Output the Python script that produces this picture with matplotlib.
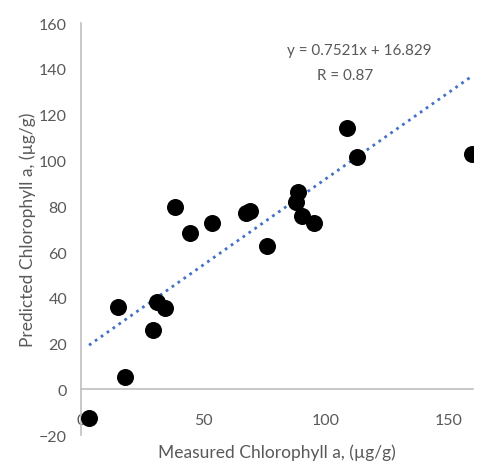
import matplotlib.pyplot as plt
import numpy as np

# measured vs predicted chlorophyll a (ug/g)
measured = [3.3, 15.2, 18.0, 29.5, 30.9, 34.3, 38.4, 44.5, 53.6, 67.2,
            69.0, 75.8, 87.8, 88.7, 90.1, 95.2, 108.4, 112.8, 159.5]
predicted = [-12.3, 36.2, 5.4, 26.0, 38.2, 35.4, 79.5, 68.1, 72.5, 76.9,
             78.0, 62.7, 82.0, 86.1, 75.8, 72.5, 114.1, 101.4, 102.8]

slope = 0.7521
intercept = 16.829
r_value = 0.87

xticks = [0, 50, 100, 150]
yticks = [-20, 0, 20, 40, 60, 80, 100, 120, 140, 160]

plt.rcParams['font.family'] = ['Lato', 'DejaVu Sans']
grey = '#595959'
axis_col = '#bfbfbf'

fig = plt.figure(figsize=(4.79, 4.64), dpi=100)
ax = fig.add_axes([0.169, 0.060, 0.8185, 0.888])

ax.scatter(measured, predicted, s=150, color='black', zorder=3, linewidths=0)

xs = np.array([min(measured), max(measured)])
ax.plot(xs, slope * xs + intercept, linestyle=(0, (1, 1.6)), color='#4472C4',
        linewidth=2, zorder=2)

ax.set_xlim(0, 160)
ax.set_ylim(-20, 160)
ax.set_xticks(xticks)
ax.set_yticks(yticks)

ax.spines['top'].set_visible(False)
ax.spines['right'].set_visible(False)
ax.spines['bottom'].set_position(('data', 0))
for s in ('left', 'bottom'):
    ax.spines[s].set_color(axis_col)
    ax.spines[s].set_linewidth(1.2)

ax.tick_params(axis='both', length=0, labelsize=11.5, labelcolor=grey)
ax.tick_params(axis='x', pad=17)
ax.tick_params(axis='y', pad=10)

ax.set_xlabel('Measured Chlorophyll a, (µg/g)', fontsize=12.5, color=grey)
ax.set_ylabel('Predicted Chlorophyll a, (µg/g)', fontsize=12.5, color=grey)
ax.xaxis.set_label_coords(0.5, -0.02)
ax.yaxis.set_label_coords(-0.115, 0.5)

# trendline label, two lines like the excel box
ax.text(0.71, 0.935, 'y = %.4fx + %.3f' % (slope, intercept),
        transform=ax.transAxes, ha='center', va='center', fontsize=11,
        color=grey)
ax.text(0.675, 0.875, 'R = %.2f' % r_value,
        transform=ax.transAxes, ha='center', va='center', fontsize=11,
        color=grey)

fig.savefig('out.png', dpi=100)
